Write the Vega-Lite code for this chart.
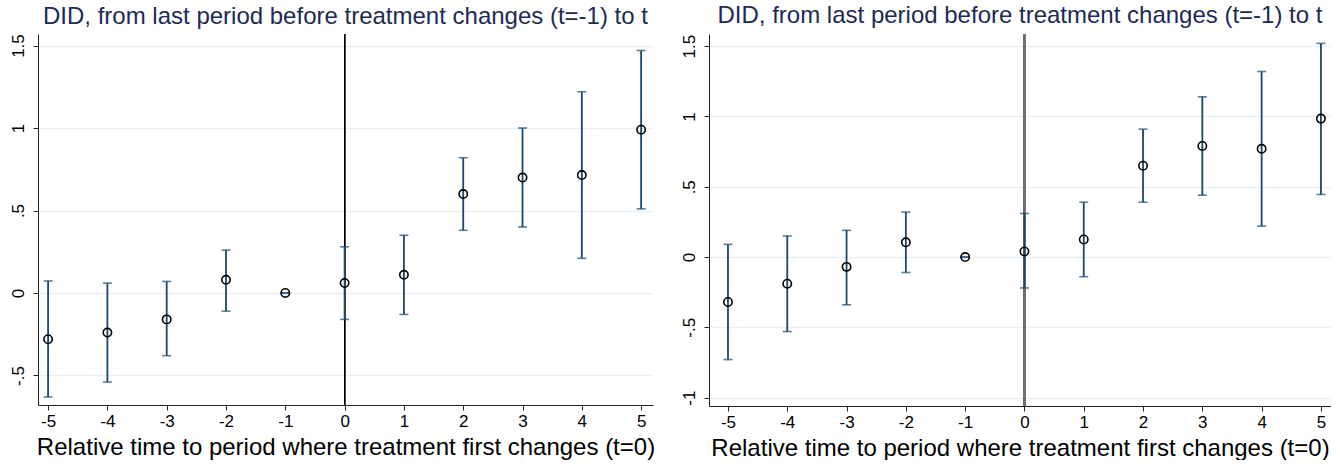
{
  "$schema": "https://vega.github.io/schema/vega-lite/v6.json",
  "autosize": {"type": "pad"},
  "padding": {"left": 9, "top": 4, "right": 0, "bottom": 0},
  "bounds": "flush",
  "spacing": 56,
  "background": "white",
  "config": {
    "view": {"stroke": null},
    "font": "Liberation Sans",
    "axis": {
      "labelFont": "Liberation Sans",
      "titleFont": "Liberation Sans",
      "labelColor": "#000000",
      "titleColor": "#000000",
      "domainColor": "#222222",
      "tickColor": "#222222",
      "domainWidth": 1,
      "tickWidth": 1,
      "tickSize": 5,
      "labelFontSize": 17,
      "titleFontSize": 24,
      "titleFontWeight": "normal"
    },
    "title": {"font": "Liberation Sans", "fontSize": 24, "fontWeight": "normal", "color": "#1c2b55", "anchor": "middle", "offset": 5}
  },
  "datasets": {
    "left": [
      {"t": -5, "b": -0.28, "lo": -0.63, "hi": 0.073},
      {"t": -4, "b": -0.24, "lo": -0.54, "hi": 0.06},
      {"t": -3, "b": -0.16, "lo": -0.38, "hi": 0.07},
      {"t": -2, "b": 0.08, "lo": -0.11, "hi": 0.26},
      {"t": -1, "b": 0.0, "lo": 0.0, "hi": 0.0},
      {"t": 0, "b": 0.06, "lo": -0.16, "hi": 0.28},
      {"t": 1, "b": 0.11, "lo": -0.13, "hi": 0.35},
      {"t": 2, "b": 0.60, "lo": 0.38, "hi": 0.82},
      {"t": 3, "b": 0.70, "lo": 0.40, "hi": 1.00},
      {"t": 4, "b": 0.715, "lo": 0.21, "hi": 1.22},
      {"t": 5, "b": 0.99, "lo": 0.51, "hi": 1.47}
    ],
    "right": [
      {"t": -5, "b": -0.32, "lo": -0.73, "hi": 0.09},
      {"t": -4, "b": -0.19, "lo": -0.53, "hi": 0.15},
      {"t": -3, "b": -0.07, "lo": -0.34, "hi": 0.19},
      {"t": -2, "b": 0.105, "lo": -0.11, "hi": 0.32},
      {"t": -1, "b": 0.0, "lo": 0.0, "hi": 0.0},
      {"t": 0, "b": 0.04, "lo": -0.22, "hi": 0.31},
      {"t": 1, "b": 0.125, "lo": -0.14, "hi": 0.39},
      {"t": 2, "b": 0.65, "lo": 0.39, "hi": 0.91},
      {"t": 3, "b": 0.79, "lo": 0.44, "hi": 1.14},
      {"t": 4, "b": 0.77, "lo": 0.22, "hi": 1.32},
      {"t": 5, "b": 0.985, "lo": 0.445, "hi": 1.52}
    ]
  },
  "hconcat": [
    {
      "width": 615,
      "height": 371,
      "title": "DID, from last period before treatment changes (t=-1) to t",
      "data": {"name": "left"},
      "encoding": {
        "x": {"field": "t", "type": "quantitative",
          "scale": {"domain": [-5.17, 5.2], "nice": false, "zero": false},
          "axis": {"values": [-5,-4,-3,-2,-1,0,1,2,3,4,5], "labelExpr": "'' + datum.value", "grid": false, "labelPadding": 3, "titlePadding": 6,
            "title": "Relative time to period where treatment first changes (t=0)"}}
      },
      "layer": [
        {"mark": {"type": "rule", "color": "#000000", "strokeWidth": 1}, "encoding": {"y": {"datum": 0, "type": "quantitative"}}},
        {"mark": {"type": "rule", "color": "#000000", "strokeWidth": 1}, "encoding": {"x": {"datum": 0, "type": "quantitative"}}},
        {"mark": {"type": "rule", "color": "#1a476f", "strokeWidth": 1.8},
          "encoding": {
            "y": {"field": "lo", "type": "quantitative",
              "scale": {"domain": [-0.679, 1.57], "nice": false, "zero": false},
              "axis": {"values": [-0.5, 0, 0.5, 1, 1.5], "title": null, "grid": true, "gridColor": "#e9f0f3", "gridWidth": 1.5,
                "labelAngle": -90, "labelAlign": "center", "labelBaseline": "bottom", "labelPadding": 6,
                "labelExpr": "replace('' + datum.value, '0.', '.')"}},
            "y2": {"field": "hi"}
          }},
        {"mark": {"type": "tick", "orient": "horizontal", "color": "#1a476f", "size": 9, "thickness": 1.6},
          "encoding": {"y": {"field": "lo", "type": "quantitative"}}},
        {"mark": {"type": "tick", "orient": "horizontal", "color": "#1a476f", "size": 9, "thickness": 1.6},
          "encoding": {"y": {"field": "hi", "type": "quantitative"}}},
        {"mark": {"type": "point", "shape": "circle", "filled": false, "stroke": "#000000", "strokeWidth": 1.6, "size": 70, "opacity": 1},
          "encoding": {"y": {"field": "b", "type": "quantitative"}}}
      ]
    },
    {
      "width": 622,
      "height": 372,
      "title": "DID, from last period before treatment changes (t=-1) to t",
      "data": {"name": "right"},
      "encoding": {
        "x": {"field": "t", "type": "quantitative",
          "scale": {"domain": [-5.32, 5.17], "nice": false, "zero": false},
          "axis": {"values": [-5,-4,-3,-2,-1,0,1,2,3,4,5], "labelExpr": "'' + datum.value", "grid": false, "labelPadding": 3, "titlePadding": 6,
            "title": "Relative time to period where treatment first changes (t=0)"}}
      },
      "layer": [
        {"mark": {"type": "rule", "color": "#6b6b6b", "strokeWidth": 1.5}, "encoding": {"y": {"datum": 0, "type": "quantitative"}}},
        {"mark": {"type": "rule", "color": "#6b6b6b", "strokeWidth": 1.5}, "encoding": {"x": {"datum": 0, "type": "quantitative"}}},
        {"mark": {"type": "rule", "color": "#1a476f", "strokeWidth": 1.8},
          "encoding": {
            "y": {"field": "lo", "type": "quantitative",
              "scale": {"domain": [-1.06, 1.587], "nice": false, "zero": false},
              "axis": {"values": [-1, -0.5, 0, 0.5, 1, 1.5], "title": null, "grid": true, "gridColor": "#e9f0f3", "gridWidth": 1.5,
                "labelAngle": -90, "labelAlign": "center", "labelBaseline": "bottom", "labelPadding": 6,
                "labelExpr": "replace('' + datum.value, '0.', '.')"}},
            "y2": {"field": "hi"}
          }},
        {"mark": {"type": "tick", "orient": "horizontal", "color": "#1a476f", "size": 9, "thickness": 1.6},
          "encoding": {"y": {"field": "lo", "type": "quantitative"}}},
        {"mark": {"type": "tick", "orient": "horizontal", "color": "#1a476f", "size": 9, "thickness": 1.6},
          "encoding": {"y": {"field": "hi", "type": "quantitative"}}},
        {"mark": {"type": "point", "shape": "circle", "filled": false, "stroke": "#000000", "strokeWidth": 1.6, "size": 70, "opacity": 1},
          "encoding": {"y": {"field": "b", "type": "quantitative"}}}
      ]
    }
  ]
}
